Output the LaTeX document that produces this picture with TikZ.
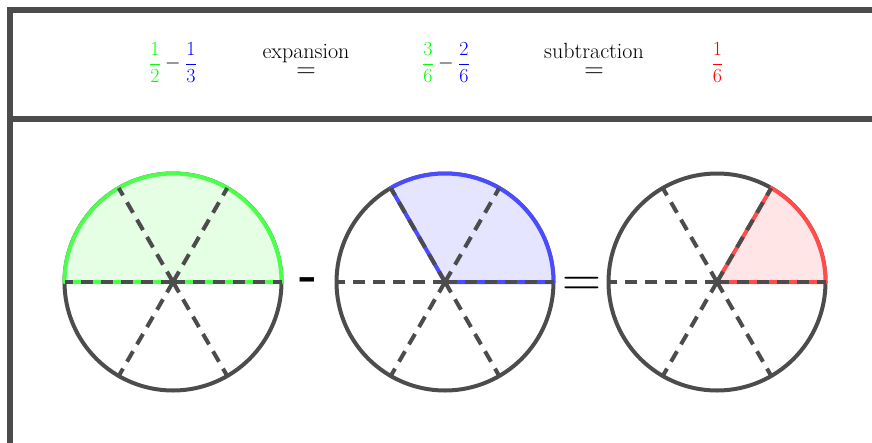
\RequirePackage{fix-cm}
\documentclass[tikz,border=0pt]{standalone}
\begin{document}
\begin{tikzpicture}[x=1pt,y=-1pt,
  frame/.style={line width=6.7pt, draw=black!70},
  rim/.style={line width=4pt, draw=black!70},
  spoke/.style={line width=4pt, draw=black!70, dash pattern=on 12pt off 8pt},
  slice/.style={line width=4pt, line join=round},
  txt/.style={font=\fontsize{20}{24}\selectfont, inner sep=0pt},
  word/.style={font=\fontsize{22}{26}\selectfont, inner sep=0pt, anchor=base},
  eqbig/.style={font=\fontsize{27}{32}\selectfont, inner sep=0pt, anchor=base},
]
\useasboundingbox (0,0) rectangle (872,442);
\clip (0,0) rectangle (872,442);
% frame
\draw[frame] (10,460) -- (10,10) -- (890,10);
\draw[frame] (10,119) -- (890,119);
% header
\node[txt] (f1) at (173,62.5) {$\displaystyle\textcolor{green}{\frac{1}{2}}-\textcolor{blue}{\frac{1}{3}}$};
\node[word] (t1) at (306,58.5) {expansion};
\node[eqbig] (e1) at (306,77.5) {$=$};
\node[txt] (f2) at (446,62.5) {$\displaystyle\textcolor{green}{\frac{3}{6}}-\textcolor{blue}{\frac{2}{6}}$};
\node[word] (t2) at (594,58.5) {subtraction};
\node[eqbig] (e2) at (594,77.5) {$=$};
\node[txt] (f3) at (717.5,62.5) {$\displaystyle\textcolor{red}{\frac{1}{6}}$};
% circles
\coordinate (c1) at (173,282);
\coordinate (c2) at (445,282);
\coordinate (c3) at (717,282);
\def\R{108.5}
\draw[rim] (c1) circle[radius=\R];
\filldraw[slice, draw=green!70, fill=green!10] (c1) -- ++(0:\R) arc[start angle=0, end angle=-180, radius=\R] -- cycle;
\draw[rim] (c2) circle[radius=\R];
\filldraw[slice, draw=blue!70, fill=blue!10] (c2) -- ++(0:\R) arc[start angle=0, end angle=-120, radius=\R] -- cycle;
\draw[rim] (c3) circle[radius=\R];
\filldraw[slice, draw=red!70, fill=red!10] (c3) -- ++(0:\R) arc[start angle=0, end angle=-60, radius=\R] -- cycle;
\foreach \c in {c1,c2,c3}{
  \foreach \a in {0,60,...,300}{
    \draw[spoke] (\c) -- ++(\a:\R);
  }
}
% operators
\node[font=\fontsize{48}{56}\bfseries\selectfont, inner sep=0pt] (m) at (308.5,284) {-};
\node[font=\fontsize{54}{60}\selectfont, inner sep=0pt, anchor=base] (eq) at (582,296.8) {$=$};
\end{tikzpicture}
\end{document}
